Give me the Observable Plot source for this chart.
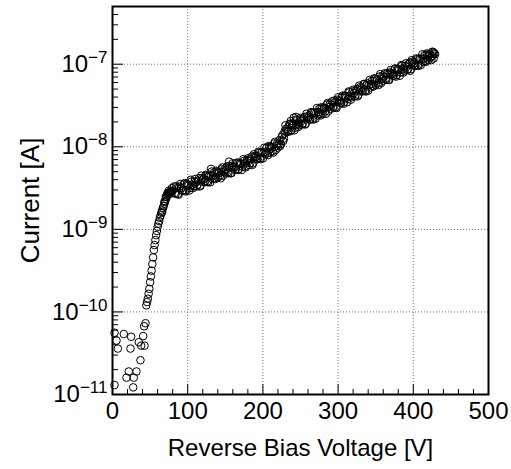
<!DOCTYPE html>
<html><head><meta charset="utf-8">
<script src="https://cdn.jsdelivr.net/npm/d3@7"></script>
<script src="https://cdn.jsdelivr.net/npm/@observablehq/plot@0.6"></script>
<style>
html,body{margin:0;padding:0;background:#fff;}
#chart svg{display:block;}
</style>
</head><body><div id="chart"></div>
<script>
// Low-voltage (noise floor) measurements: voltage [V], current [A]
const lowVoltage = [2.7, 2.7, 5.3, 7.1, 15, 24.8, 23.9, 35, 38.1, 42.6, 37.2, 40.8, 42.1, 43.9, 21.7, 31.9, 18.6, 28.3, 27.5];
const lowCurrent = [5.6e-11, 1.3e-11, 4.5e-11, 3.6e-11, 5.4e-11, 5.0e-11, 3.6e-11, 4.3e-11, 3.9e-11, 3.9e-11, 2.6e-11, 5.1e-11, 6.7e-11, 7.3e-11, 1.9e-11, 1.9e-11, 1.6e-11, 1.6e-11, 1.22e-11];

// Steep rise / knee
const riseVoltage = [45, 46, 47, 48, 49, 50, 51, 52, 53, 54, 55, 56, 57, 58, 59, 60, 61, 62, 63, 64, 65, 66, 67, 68, 69, 70, 71, 72, 73, 74, 75, 76, 77, 78, 79, 80,
  66, 69, 71, 73, 75, 77, 79];
const riseCurrent = [1.202e-10, 1.318e-10, 1.445e-10, 1.660e-10, 1.905e-10, 2.291e-10, 2.692e-10, 3.162e-10, 3.802e-10, 4.571e-10, 5.623e-10, 6.457e-10, 7.413e-10, 8.511e-10, 9.55e-10,
  1.072e-9, 1.175e-9, 1.259e-9, 1.380e-9, 1.479e-9, 1.585e-9, 1.698e-9, 1.820e-9, 1.905e-9, 2.042e-9, 2.188e-9, 2.344e-9, 2.455e-9, 2.570e-9, 2.692e-9, 2.754e-9, 2.818e-9, 2.85e-9, 2.884e-9, 2.9e-9, 2.951e-9,
  1.62e-9, 2.15e-9, 2.5e-9, 2.75e-9, 2.95e-9, 2.7e-9, 3.15e-9];

// Main band, sweep A (even voltages) and extra scattered points
const bandVoltage = [82, 84, 86, 88, 90, 92, 94, 96, 98, 100, 102, 104, 106, 108, 110, 112, 114, 116, 118, 120,
  122, 124, 126, 128, 130, 132, 134, 136, 138, 140, 142, 144, 146, 148, 150, 152, 154, 156, 158, 160,
  162, 164, 166, 168, 170, 172, 174, 176, 178, 180, 182, 184, 186, 188, 190, 192, 194, 196, 198, 200,
  202, 204, 206, 208, 210, 212, 214, 216, 218, 220, 222, 224, 226, 228, 230, 232, 234, 236, 238, 240,
  242, 244, 246, 248, 250, 252, 254, 256, 258, 260, 262, 264, 266, 268, 270, 272, 274, 276, 278, 280,
  282, 284, 286, 288, 290, 292, 294, 296, 298, 300, 302, 304, 306, 308, 310, 312, 314, 316, 318, 320,
  322, 324, 326, 328, 330, 332, 334, 336, 338, 340, 342, 344, 346, 348, 350, 352, 354, 356, 358, 360,
  362, 364, 366, 368, 370, 372, 374, 376, 378, 380, 382, 384, 386, 388, 390, 392, 394, 396, 398, 400,
  402, 404, 406, 408, 410, 412, 414, 416, 418, 420, 422, 424, 426, 428,
  229, 237, 241, 244, 131, 155, 425, 427, 429];
const bandCurrent = [3.311e-9, 2.692e-9, 3.162e-9, 2.630e-9, 3.548e-9, 3.162e-9, 2.951e-9, 3.631e-9, 2.951e-9, 3.467e-9,
  2.951e-9, 3.981e-9, 3.467e-9, 3.311e-9, 4.074e-9, 3.311e-9, 3.890e-9, 3.311e-9, 4.467e-9, 3.981e-9,
  3.715e-9, 4.571e-9, 3.802e-9, 4.365e-9, 3.715e-9, 5.012e-9, 4.467e-9, 4.169e-9, 5.129e-9, 4.266e-9,
  5.012e-9, 4.169e-9, 5.623e-9, 5.012e-9, 4.786e-9, 5.754e-9, 4.786e-9, 5.623e-9, 4.786e-9, 6.310e-9,
  5.623e-9, 5.370e-9, 6.457e-9, 5.370e-9, 6.310e-9, 5.248e-9, 7.079e-9, 6.310e-9, 5.888e-9, 7.244e-9,
  6.026e-9, 7.079e-9, 6.026e-9, 8.128e-9, 7.413e-9, 7.079e-9, 8.710e-9, 7.244e-9, 8.511e-9, 7.244e-9,
  9.772e-9, 8.710e-9, 8.318e-9, 1.023e-8, 8.511e-9, 1.000e-8, 8.511e-9, 1.148e-8, 1.023e-8, 9.772e-9,
  1.202e-8, 1.072e-8, 1.380e-8, 1.259e-8, 1.820e-8, 1.622e-8, 1.549e-8, 1.905e-8, 1.585e-8, 1.862e-8,
  1.585e-8, 2.138e-8, 1.905e-8, 1.820e-8, 2.239e-8, 1.862e-8, 2.188e-8, 1.862e-8, 2.512e-8, 2.239e-8,
  2.138e-8, 2.630e-8, 2.188e-8, 2.570e-8, 2.188e-8, 2.951e-8, 2.630e-8, 2.512e-8, 3.020e-8, 2.512e-8,
  2.951e-8, 2.512e-8, 3.388e-8, 3.020e-8, 2.884e-8, 3.548e-8, 2.951e-8, 3.467e-8, 2.951e-8, 3.981e-8,
  3.548e-8, 3.388e-8, 4.169e-8, 3.467e-8, 4.074e-8, 3.467e-8, 4.677e-8, 4.169e-8, 3.981e-8, 4.898e-8,
  4.074e-8, 4.786e-8, 4.074e-8, 5.495e-8, 4.898e-8, 4.677e-8, 5.754e-8, 4.786e-8, 5.623e-8, 4.786e-8,
  6.457e-8, 5.754e-8, 5.495e-8, 6.761e-8, 5.623e-8, 6.607e-8, 5.623e-8, 7.586e-8, 6.607e-8, 6.310e-8,
  7.762e-8, 6.457e-8, 7.586e-8, 6.457e-8, 8.511e-8, 7.586e-8, 7.244e-8, 8.913e-8, 7.413e-8, 8.710e-8,
  7.244e-8, 9.772e-8, 8.710e-8, 8.318e-8, 1.023e-7, 8.511e-8, 1.000e-7, 8.318e-8, 1.122e-7, 1.000e-7,
  9.550e-8, 1.175e-7, 9.772e-8, 1.148e-7, 9.772e-8, 1.318e-7, 1.175e-7, 1.096e-7, 1.349e-7, 1.122e-7,
  1.318e-7, 1.122e-7, 1.413e-7, 1.349e-7,
  1.45e-8, 2.05e-8, 2.25e-8, 2.3e-8, 5.4e-9, 6.6e-9, 1.26e-7, 1.38e-7, 1.32e-7];

// Main band, sweep B (odd voltages)
const band2Voltage = [83, 85, 87, 89, 91, 93, 95, 97, 99, 101, 103, 105, 107, 109, 111, 113, 115, 117, 119, 121,
  123, 125, 127, 129, 131, 133, 135, 137, 139, 141, 143, 145, 147, 149, 151, 153, 155, 157, 159, 161,
  163, 165, 167, 169, 171, 173, 175, 177, 179, 181, 183, 185, 187, 189, 191, 193, 195, 197, 199, 201,
  203, 205, 207, 209, 211, 213, 215, 217, 219, 221, 223, 225, 227, 229, 231, 233, 235, 237, 239, 241,
  243, 245, 247, 249, 251, 253, 255, 257, 259, 261, 263, 265, 267, 269, 271, 273, 275, 277, 279, 281,
  283, 285, 287, 289, 291, 293, 295, 297, 299, 301, 303, 305, 307, 309, 311, 313, 315, 317, 319, 321,
  323, 325, 327, 329, 331, 333, 335, 337, 339, 341, 343, 345, 347, 349, 351, 353, 355, 357, 359, 361,
  363, 365, 367, 369, 371, 373, 375, 377, 379, 381, 383, 385, 387, 389, 391, 393, 395, 397, 399, 401,
  403, 405, 407, 409, 411, 413, 415, 417, 419, 421, 423, 425, 427];
const band2Current = [2.754e-9, 3.311e-9, 2.692e-9, 3.311e-9, 3.162e-9, 2.951e-9, 3.548e-9, 2.884e-9, 3.548e-9, 3.388e-9,
  3.162e-9, 3.802e-9, 3.162e-9, 3.802e-9, 3.715e-9, 3.467e-9, 4.169e-9, 3.388e-9, 4.169e-9, 4.074e-9,
  3.802e-9, 4.467e-9, 3.715e-9, 4.571e-9, 4.467e-9, 4.074e-9, 4.898e-9, 4.074e-9, 5.012e-9, 4.786e-9,
  4.467e-9, 5.370e-9, 4.467e-9, 5.370e-9, 5.248e-9, 4.898e-9, 5.888e-9, 4.786e-9, 5.888e-9, 5.754e-9,
  5.248e-9, 6.310e-9, 5.248e-9, 6.310e-9, 6.166e-9, 5.754e-9, 6.761e-9, 5.623e-9, 6.918e-9, 6.761e-9,
  6.310e-9, 7.586e-9, 6.310e-9, 7.762e-9, 7.586e-9, 7.079e-9, 8.511e-9, 7.079e-9, 8.710e-9, 8.511e-9,
  8.128e-9, 9.772e-9, 7.943e-9, 1.000e-8, 9.550e-9, 8.913e-9, 1.096e-8, 9.120e-9, 1.096e-8, 1.072e-8,
  1.023e-8, 1.318e-8, 1.175e-8, 1.549e-8, 1.660e-8, 1.514e-8, 1.862e-8, 1.549e-8, 1.905e-8, 1.820e-8,
  1.698e-8, 2.089e-8, 1.738e-8, 2.138e-8, 2.042e-8, 1.905e-8, 2.291e-8, 1.905e-8, 2.344e-8, 2.291e-8,
  2.138e-8, 2.570e-8, 2.138e-8, 2.630e-8, 2.570e-8, 2.399e-8, 2.884e-8, 2.399e-8, 2.951e-8, 2.884e-8,
  2.692e-8, 3.236e-8, 2.692e-8, 3.311e-8, 3.236e-8, 3.020e-8, 3.631e-8, 3.020e-8, 3.715e-8, 3.631e-8,
  3.388e-8, 3.981e-8, 3.311e-8, 4.169e-8, 3.981e-8, 3.802e-8, 4.571e-8, 3.715e-8, 4.677e-8, 4.467e-8,
  4.169e-8, 5.012e-8, 4.266e-8, 5.248e-8, 5.129e-8, 4.786e-8, 5.754e-8, 4.677e-8, 5.888e-8, 5.623e-8,
  5.248e-8, 6.310e-8, 5.370e-8, 6.607e-8, 6.310e-8, 5.888e-8, 7.079e-8, 5.888e-8, 7.244e-8, 7.079e-8,
  6.607e-8, 7.762e-8, 6.457e-8, 7.943e-8, 7.762e-8, 7.244e-8, 8.710e-8, 7.079e-8, 8.710e-8, 8.511e-8,
  7.943e-8, 9.550e-8, 7.943e-8, 9.550e-8, 9.333e-8, 8.710e-8, 1.047e-7, 8.710e-8, 1.072e-7, 1.023e-7,
  9.550e-8, 1.148e-7, 9.550e-8, 1.175e-7, 1.148e-7, 1.072e-7, 1.288e-7, 1.072e-7, 1.318e-7, 1.288e-7,
  1.202e-7, 1.413e-7, 1.175e-7];

// Axes
const xTicks = [0, 100, 200, 300, 400, 500];
const xGridTicks = [100, 200, 300, 400];
const xMinorTicks = [20, 40, 60, 80, 120, 140, 160, 180, 220, 240, 260, 280, 320, 340, 360, 380, 420, 440, 460, 480];
const yTicks = [1e-11, 1e-10, 1e-9, 1e-8, 1e-7];
const yTickLabels = ["10|−11", "10|−10", "10|−9", "10|−8", "10|−7"];
const yMinorTicks = [2e-11, 3e-11, 4e-11, 5e-11, 6e-11, 7e-11, 8e-11, 9e-11,
  2e-10, 3e-10, 4e-10, 5e-10, 6e-10, 7e-10, 8e-10, 9e-10,
  2e-9, 3e-9, 4e-9, 5e-9, 6e-9, 7e-9, 8e-9, 9e-9,
  2e-8, 3e-8, 4e-8, 5e-8, 6e-8, 7e-8, 8e-8, 9e-8,
  2e-7, 3e-7, 4e-7];
const xTitle = "Reverse Bias Voltage [V]";
const yTitle = "Current [A]";

const data = [];
lowVoltage.forEach((v, k) => data.push({v, i: lowCurrent[k]}));
riseVoltage.forEach((v, k) => data.push({v, i: riseCurrent[k]}));
bandVoltage.forEach((v, k) => data.push({v, i: bandCurrent[k]}));
band2Voltage.forEach((v, k) => data.push({v, i: band2Current[k]}));

const font = '"Liberation Sans", Arial, Helvetica, sans-serif';
const gridStyle = {stroke: "#777", strokeOpacity: 1, strokeDasharray: "1,2", strokeWidth: 1};

const chart = Plot.plot({
  width: 511, height: 469,
  marginLeft: 112, marginRight: 23, marginTop: 6, marginBottom: 75,
  style: {fontFamily: font, fontSize: "24px", background: "white", color: "black"},
  x: {type: "linear", domain: [0, 500]},
  y: {type: "log", domain: [1e-11, 5e-7]},
  marks: [
    Plot.gridX(xGridTicks, gridStyle),
    Plot.gridY(yTicks, gridStyle),
    Plot.dot(data, {x: "v", y: "i", r: 3.8, stroke: "black", strokeWidth: 1, fill: "none"}),
    Plot.axisX(xMinorTicks, {tickSize: -5, tickFormat: () => "", label: null}),
    Plot.axisX(xTicks, {tickSize: -10, tickPadding: 17, tickFormat: d => String(d), label: null}),
    Plot.axisY(yMinorTicks, {tickSize: -6, tickFormat: () => "", label: null}),
    Plot.axisY(yTicks, {tickSize: -11, tickPadding: 16, tickFormat: d => yTickLabels[yTicks.indexOf(d)], label: null}),
    Plot.frame({stroke: "black", strokeWidth: 2}),
    Plot.text([xTitle], {text: d => d, frameAnchor: "bottom", dy: 61, fontSize: 24, textAnchor: "middle"}),
    Plot.text([yTitle], {text: d => d, frameAnchor: "left", dx: -82, rotate: -90, fontSize: 26, textAnchor: "middle"})
  ]
});

// superscript exponents on the y tick labels
chart.querySelectorAll("text").forEach(t => {
  const s = t.textContent;
  if (!s.includes("|")) return;
  const [base, exp] = s.split("|");
  t.textContent = "";
  t.appendChild(document.createTextNode(base));
  const ts = document.createElementNS("http://www.w3.org/2000/svg", "tspan");
  ts.setAttribute("dy", "-9");
  ts.setAttribute("font-size", "17");
  ts.textContent = exp;
  t.appendChild(ts);
});

document.getElementById("chart").appendChild(chart);
</script>
</body></html>
